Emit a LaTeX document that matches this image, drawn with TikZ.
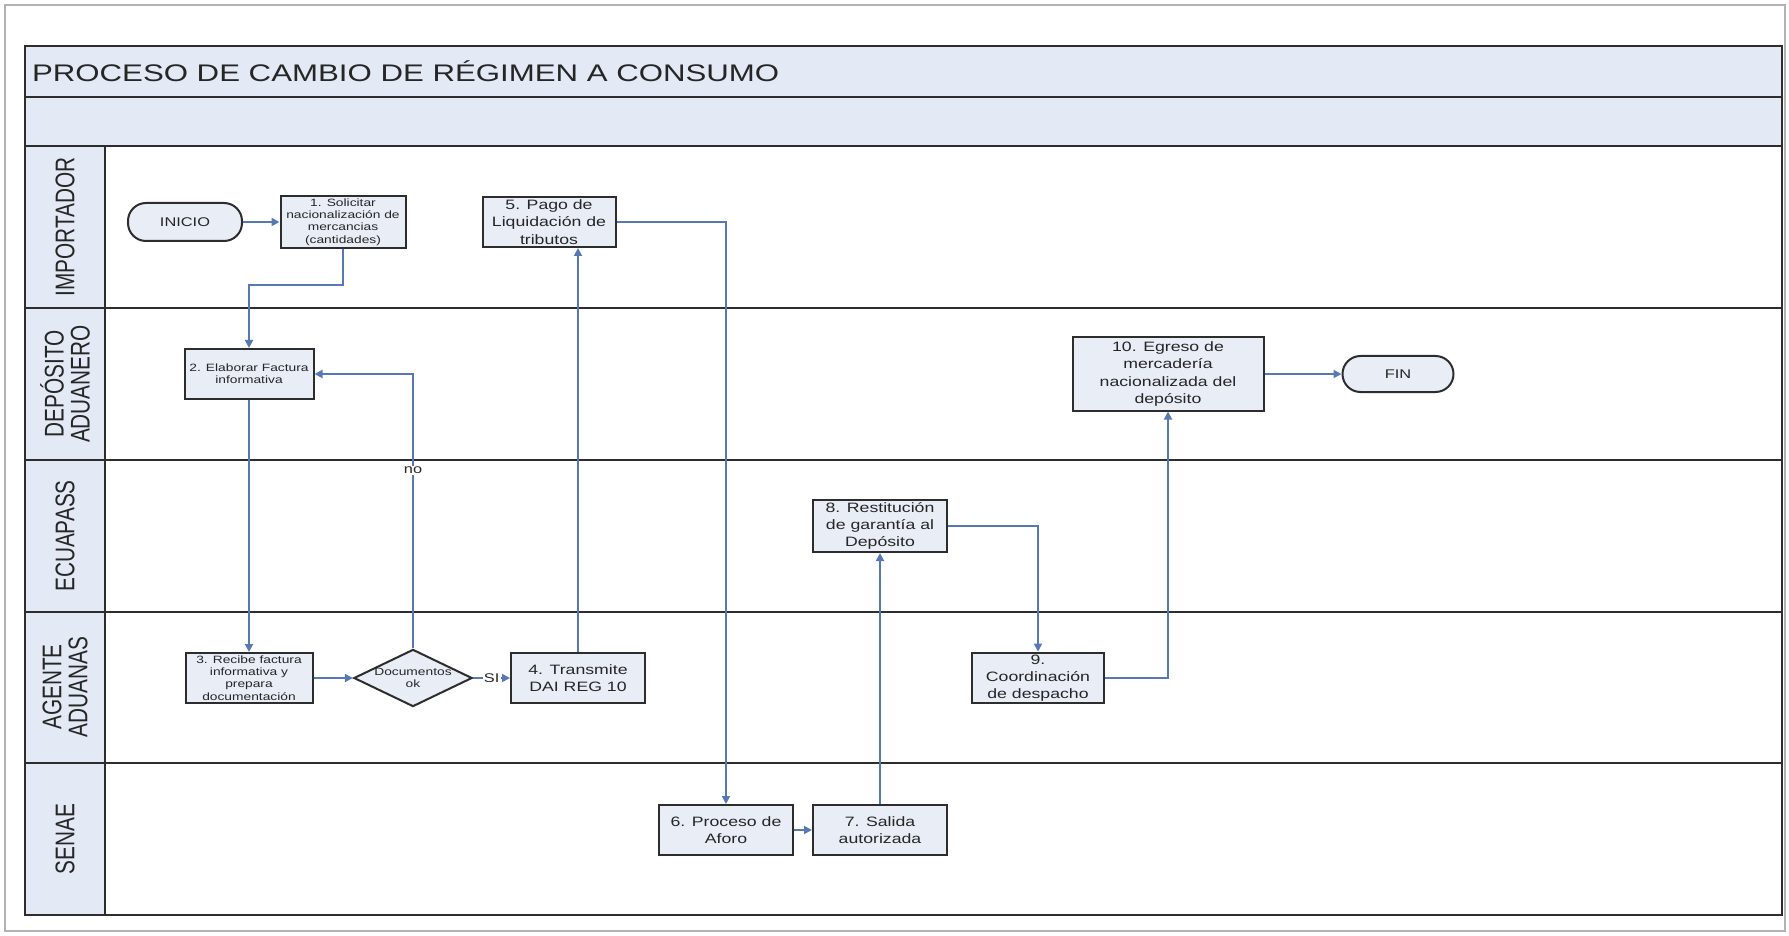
\documentclass[tikz,border=0pt]{standalone}
\usepackage{fontspec}
\setmainfont{Liberation Sans}
\newfontfamily\wideSans[FakeStretch=1.3]{Liberation Sans}
\newfontfamily\narrowSans[FakeStretch=0.77]{Liberation Sans}
\usetikzlibrary{arrows.meta,shapes.geometric}
\definecolor{bandblue}{RGB}{227,234,245}
\definecolor{boxblue}{RGB}{232,237,246}
\definecolor{flowblue}{RGB}{86,121,182}
\definecolor{edgegray}{RGB}{45,45,45}

\begin{document}
\begin{tikzpicture}[x=0.5pt, y=-0.5pt,
  proc/.style={draw=edgegray, line width=1pt, fill=boxblue, align=center, inner sep=1pt,
    minimum width=67pt, minimum height=25pt, text=black!85,
    font=\wideSans\fontsize{6.8}{8.6}\selectfont},
  smalltxt/.style={font=\wideSans\fontsize{5.3}{6.2}\selectfont},
  term/.style={proc, rounded corners=9pt, minimum width=57pt, minimum height=19pt,
    font=\wideSans\fontsize{6.3}{8}\selectfont},
  decision/.style={proc, diamond, aspect=2.07, minimum width=57pt, minimum height=27.5pt, inner sep=0pt},
  lanetxt/.style={rotate=90, align=center, text=black!85,
    font=\narrowSans\fontsize{13.5}{13}\selectfont},
  flowlbl/.style={fill=white, inner sep=0.6pt, text=black!85, font=\wideSans\fontsize{6.3}{8}\selectfont},
  flow/.style={-{Triangle[length=4pt,width=4pt]}, flowblue, line width=0.9pt}]
\useasboundingbox (0,0) rectangle (1789,936);
\draw [black!30, line width=0.6pt] (5,5) rectangle (1785,931);

% frame and lanes
\fill [bandblue] (25,46) rectangle (1782,146);
\fill [bandblue] (25,146) rectangle (105,915);
\draw [edgegray, line width=1.4pt] (25,46) rectangle (1782,915);
\draw [edgegray, line width=1.4pt] (25,97) -- (1782,97);
\draw [edgegray, line width=1.4pt] (25,146) -- (1782,146);
\foreach \y in {308,460,612,763}
  \draw [edgegray, line width=1.4pt] (25,\y) -- (1782,\y);
\draw [edgegray, line width=1.4pt] (105,146) -- (105,915);

\node (TITLE) at (25,71) [anchor=west, text=black!85, font=\wideSans\fontsize{12}{14}\selectfont] {PROCESO DE CAMBIO DE RÉGIMEN A CONSUMO};
\node (IMP) at (65,227) [lanetxt] {IMPORTADOR};
\node (DEP) at (65,384) [lanetxt] {DEPÓSITO\\ADUANERO};
\node (ECU) at (65,536) [lanetxt] {ECUAPASS};
\node (AGE) at (65,687) [lanetxt] {AGENTE\\ADUANAS};
\node (SEN) at (65,839) [lanetxt] {SENAE};

% steps
\node (INI) at (185,222) [term] {INICIO};
\node (SOL) at (343,222) [proc, smalltxt, minimum width=62.5pt] {1. Solicitar\\nacionalización de\\mercancias\\(cantidades)};
\node (PAGO) at (549,222) [proc, minimum width=66.5pt] {5. Pago de\\Liquidación de\\tributos};
\node (ELAB) at (249,374) [proc, smalltxt, minimum width=64.5pt] {2. Elaborar Factura\\informativa};
\node (EGRESO) at (1168,374) [proc, minimum width=95.5pt, minimum height=36.5pt] {10. Egreso de\\mercadería\\nacionalizada del\\depósito};
\node (FIN) at (1398,374) [term, minimum width=55.5pt, minimum height=18pt] {FIN};
\node (REST) at (880,526) [proc, minimum height=26pt] {8. Restitución\\de garantía al\\Depósito};
\node (RECIBE) at (249,678) [proc, smalltxt, minimum width=63.5pt] {3. Recibe factura\\informativa y\\prepara\\documentación};
\node (DOC) at (413,678) [decision, smalltxt] {Documentos\\ok};
\node (DAI) at (578,678) [proc] {4. Transmite\\DAI REG 10};
\node (COORD) at (1038,678) [proc, minimum width=66pt] {9.\\Coordinación\\de despacho};
\node (AFORO) at (726,830) [proc] {6. Proceso de\\Aforo};
\node (SALIDA) at (880,830) [proc] {7. Salida\\autorizada};

\coordinate (K1) at (249,285);

\draw [flow] (INI) to (SOL);
\draw [flow] (SOL.south) |- (K1) -- (ELAB.north);
\draw [flow] (ELAB) to (RECIBE);
\draw [flow] (RECIBE) to (DOC);
\draw [flow] (DOC.east) -- node[flowlbl] {SI} (DAI.west);
\draw [flow] (DOC.north) |- node[flowlbl, pos=0.324] {no} (ELAB.east);
\draw [flow] (DAI.north) -- (DAI.north |- PAGO.south);
\draw [flow] (PAGO.east) -| (AFORO.north);
\draw [flow] (AFORO) to (SALIDA);
\draw [flow] (SALIDA) to (REST);
\draw [flow] (REST.east) -| (COORD.north);
\draw [flow] (COORD.east) -| (EGRESO.south);
\draw [flow] (EGRESO) to (FIN);
\end{tikzpicture}
\end{document}
